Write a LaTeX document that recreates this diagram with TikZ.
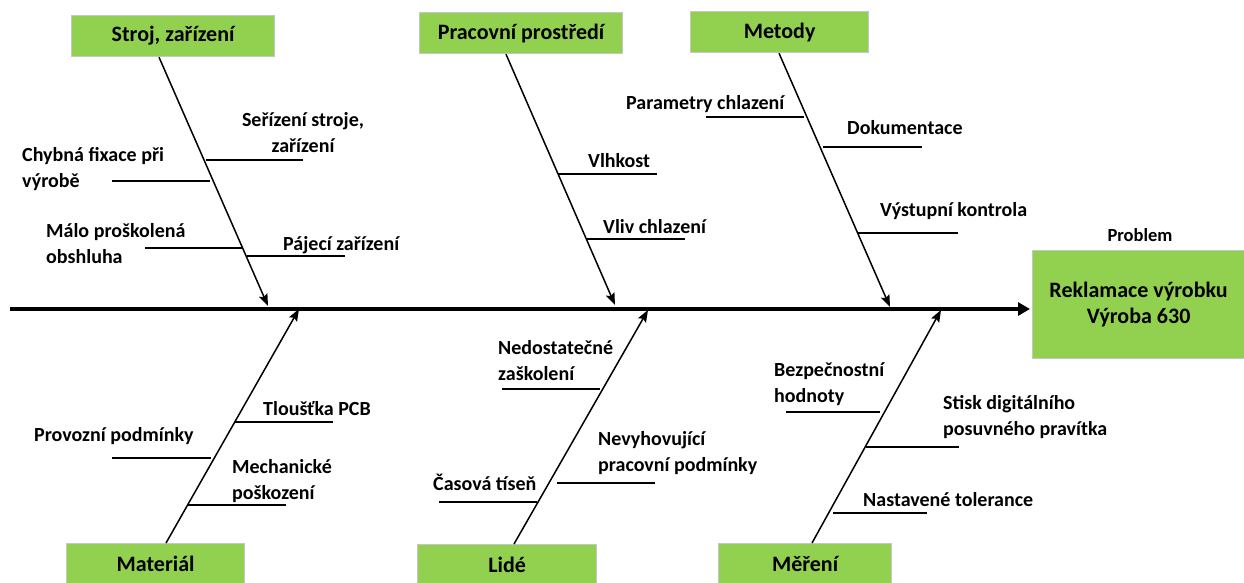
\documentclass[tikz,border=0pt]{standalone}
\usepackage{fontspec}
\setmainfont{Carlito}
\usetikzlibrary{arrows.meta}
\definecolor{boxgreen}{HTML}{92D050}
\definecolor{boxedge}{HTML}{C6C6C6}

\begin{document}
\begin{tikzpicture}[x=1pt,y=-1pt,
  catbox/.style={draw=boxedge, line width=1.2pt, fill=boxgreen, inner sep=0pt,
    minimum width=#1, minimum height=41pt, anchor=north west,
    font=\bfseries\fontsize{22}{26}\selectfont},
  cause/.style={font=\bfseries\fontsize{20}{26}\selectfont, inner sep=0pt, align=left, anchor=base west},
  bone/.style={line width=1.5pt, -{Stealth[length=12pt,width=9pt,inset=2pt]}},
  twig/.style={line width=1.5pt},
  spine/.style={line width=3.5pt, -{Triangle[length=12pt,width=13pt]}}]

\clip (0,0) rectangle (1244,582);

% category boxes
\node[catbox=203pt] (stroj)   at (71,15)  {Stroj, zařízení};
\node[catbox=203pt] (prostr)  at (419,12) {Pracovní prostředí};
\node[catbox=178pt] (metody)  at (690,11) {Metody};
\node[catbox=178pt] (mat)     at (66,543) {Materiál};
\node[catbox=179pt] (lide)    at (417,544){Lidé};
\node[catbox=173pt] (mereni)  at (718,543){Měření};

% problem (head)
\node[draw=boxedge, line width=1.2pt, fill=boxgreen, anchor=north west,
      minimum width=212pt, minimum height=108pt, inner sep=0pt, align=center,
      font=\bfseries\fontsize{22}{26}\selectfont] (problem) at (1032,250)
      {Reklamace výrobku\\Výroba 630};
\node[font=\bfseries\fontsize{18.5}{22}\selectfont, inner sep=0pt, anchor=base] (problabel) at (1140,241) {Problem};

% spine
\coordinate (tail) at (10,309);
\draw[spine] (tail) -- ([xshift=-2pt]problem.west |- tail);

% bone attachment points
\coordinate (b1s) at (159,56);  \coordinate (b1e) at (268,306);
\coordinate (b2s) at (506,53);  \coordinate (b2e) at (615,305);
\coordinate (b3s) at (779,52);  \coordinate (b3e) at (890,307);
\coordinate (b4s) at (166,543); \coordinate (b4e) at (299,309);
\coordinate (b5s) at (514,544); \coordinate (b5e) at (648,310);
\coordinate (b6s) at (812,543); \coordinate (b6e) at (941,310);

\draw[bone] (stroj.south -| b1s)  -- (b1e);
\draw[bone] (prostr.south -| b2s) -- (b2e);
\draw[bone] (metody.south -| b3s) -- (b3e);
\draw[bone] (mat.north -| b4s)    -- (b4e);
\draw[bone] (lide.north -| b5s)   -- (b5e);
\draw[bone] (mereni.north -| b6s) -- (b6e);

% Stroj, zařízení
\coordinate (t1a) at (206,160); \coordinate (t1b) at (303,160);
\coordinate (t2a) at (112,181); \coordinate (t2b) at (210,181);
\coordinate (t3a) at (145,248); \coordinate (t3b) at (242,248);
\coordinate (t4a) at (247,256); \coordinate (t4b) at (345,256);
\draw[twig] (t1a) -- (t1b);
\draw[twig] (t2a) -- (t2b);
\draw[twig] (t3a) -- (t3b);
\draw[twig] (t4a) -- (t4b);
\node[cause, align=center, anchor=base] (c1) at (303,152) {Seřízení stroje,\\zařízení};
\node[cause] (c2) at (22,187) {Chybná fixace při\\výrobě};
\node[cause] (c3) at (46,263) {Málo proškolená\\obshluha};
\node[cause] (c4) at (283,250) {Pájecí zařízení};

% Pracovní prostředí
\coordinate (t5a) at (558,174); \coordinate (t5b) at (657,174);
\coordinate (t6a) at (587,239); \coordinate (t6b) at (685,239);
\draw[twig] (t5a) -- (t5b);
\draw[twig] (t6a) -- (t6b);
\node[cause] (c5) at (588,167) {Vlhkost};
\node[cause] (c6) at (603,233) {Vliv chlazení};

% Metody
\coordinate (t7a) at (706,117); \coordinate (t7b) at (804,117);
\coordinate (t8a) at (823,147); \coordinate (t8b) at (922,147);
\coordinate (t9a) at (858,233); \coordinate (t9b) at (958,233);
\draw[twig] (t7a) -- (t7b);
\draw[twig] (t8a) -- (t8b);
\draw[twig] (t9a) -- (t9b);
\node[cause] (c7) at (626,109) {Parametry chlazení};
\node[cause] (c8) at (847,134) {Dokumentace};
\node[cause] (c9) at (880,216) {Výstupní kontrola};

% Materiál
\coordinate (t10a) at (235,422); \coordinate (t10b) at (333,422);
\coordinate (t11a) at (112,458); \coordinate (t11b) at (211,458);
\coordinate (t12a) at (188,505); \coordinate (t12b) at (286,505);
\draw[twig] (t10a) -- (t10b);
\draw[twig] (t11a) -- (t11b);
\draw[twig] (t12a) -- (t12b);
\node[cause] (c10) at (263,415) {Tloušťka PCB};
\node[cause] (c11) at (34,441) {Provozní podmínky};
\node[cause] (c12) at (232,499) {Mechanické\\poškození};

% Lidé
\coordinate (t13a) at (502,389); \coordinate (t13b) at (600,389);
\coordinate (t14a) at (557,483); \coordinate (t14b) at (655,483);
\coordinate (t15a) at (439,502); \coordinate (t15b) at (537,502);
\draw[twig] (t13a) -- (t13b);
\draw[twig] (t14a) -- (t14b);
\draw[twig] (t15a) -- (t15b);
\node[cause] (c13) at (498,380) {Nedostatečné\\zaškolení};
\node[cause] (c14) at (598,471) {Nevyhovující\\pracovní podmínky};
\node[cause] (c15) at (433,490) {Časová tíseň};

% Měření
\coordinate (t16a) at (786,412); \coordinate (t16b) at (880,412);
\coordinate (t17a) at (866,447); \coordinate (t17b) at (959,447);
\coordinate (t18a) at (833,513); \coordinate (t18b) at (927,513);
\draw[twig] (t16a) -- (t16b);
\draw[twig] (t17a) -- (t17b);
\draw[twig] (t18a) -- (t18b);
\node[cause] (c16) at (774,402) {Bezpečnostní\\hodnoty};
\node[cause] (c17) at (943,435) {Stisk digitálního\\posuvného pravítka};
\node[cause] (c18) at (863,506) {Nastavené tolerance};
\end{tikzpicture}
\end{document}
